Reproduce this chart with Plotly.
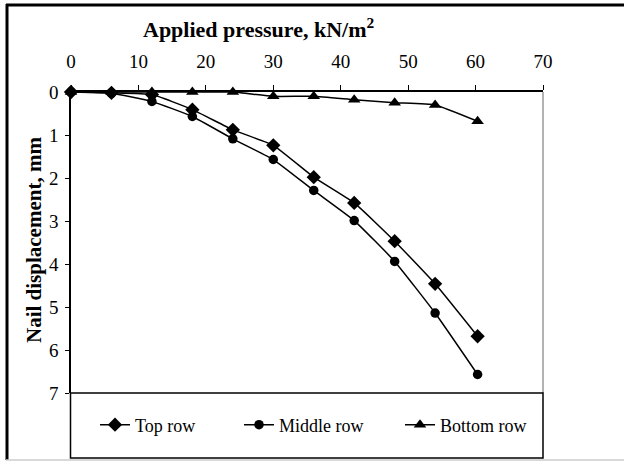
import plotly.graph_objects as go

pressure = [0, 6, 12, 18, 24, 30, 36, 42, 48, 54, 60.3]
top_row = [0, 0.02, 0.06, 0.41, 0.88, 1.24, 1.98, 2.58, 3.47, 4.46, 5.68]
middle_row = [0, 0.03, 0.22, 0.57, 1.09, 1.57, 2.29, 2.99, 3.94, 5.14, 6.57]
bottom_row = [0, 0, 0, 0, 0, 0.1, 0.1, 0.18, 0.25, 0.3, 0.68]
x_ticks = [0, 10, 20, 30, 40, 50, 60, 70]
y_ticks = [0, 1, 2, 3, 4, 5, 6, 7]

W, H = 624, 461
L, R, T, B = 71, 81, 92, 68
pw, ph = W - L - R, H - T - B

def px(xp):
    return (xp - L) / pw

def py(yp):
    return 1 - (yp - T) / ph

FONT = "Liberation Serif"

fig = go.Figure()
series = [
    ("Top row", top_row, "diamond", 11, "legend"),
    ("Middle row", middle_row, "circle", 9.5, "legend2"),
    ("Bottom row", bottom_row, "triangle-up", 11, "legend3"),
]
for name, vals, sym, sz, lg in series:
    fig.add_trace(go.Scatter(
        x=pressure, y=vals, name=name, mode="lines+markers",
        line=dict(color="black", width=1.5, shape="spline", smoothing=0.4),
        marker=dict(symbol=sym, size=sz, color="black"),
        legend=lg, cliponaxis=False,
    ))

legend_common = dict(orientation="h", yanchor="middle", xanchor="left",
                     bgcolor="rgba(0,0,0,0)", borderwidth=0,
                     font=dict(family=FONT, size=18, color="black"))
fig.update_layout(
    width=W, height=H,
    margin=dict(l=L, r=R, t=T, b=B),
    paper_bgcolor="white", plot_bgcolor="white",
    showlegend=True,
    legend=dict(x=px(95), y=py(425), **legend_common),
    legend2=dict(x=px(239), y=py(425), **legend_common),
    legend3=dict(x=px(400), y=py(425), **legend_common),
    xaxis=dict(
        side="top", range=[0, 70], tickvals=x_ticks, ticks="outside", ticklen=5,
        tickcolor="black", showline=True, linecolor="black", linewidth=1.5,
        showgrid=False, zeroline=False, ticklabelstandoff=10,
        tickfont=dict(family=FONT, size=19, color="black"),
    ),
    yaxis=dict(
        range=[7, 0], tickvals=y_ticks, ticks="outside", ticklen=4,
        tickcolor="black", showline=True, linecolor="black", linewidth=1.5,
        showgrid=False, zeroline=False, ticklabelstandoff=3,
        tickfont=dict(family=FONT, size=19, color="black"),
    ),
    shapes=[
        # right plot border (gray)
        dict(type="line", xref="paper", yref="paper", x0=1, x1=1, y0=0, y1=1,
             line=dict(color="#999999", width=1.5)),
        # legend box
        dict(type="rect", xref="paper", yref="paper", x0=px(70.5), x1=px(543),
             y0=py(458), y1=py(393), line=dict(color="black", width=1.5)),
        # outer frame
        dict(type="line", xref="paper", yref="paper", x0=px(6), x1=px(624),
             y0=py(5), y1=py(5), line=dict(color="black", width=3)),
        dict(type="line", xref="paper", yref="paper", x0=px(7), x1=px(7),
             y0=py(4), y1=py(460), line=dict(color="black", width=3)),
        dict(type="line", xref="paper", yref="paper", x0=px(6), x1=px(624),
             y0=py(460), y1=py(460), line=dict(color="#cccccc", width=1.5)),
    ],
    annotations=[
        dict(text="<b>Applied pressure, kN/m<sup>2</sup></b>", xref="paper", yref="paper",
             x=px(259), y=py(28), showarrow=False, xanchor="center", yanchor="middle",
             font=dict(family=FONT, size=22, color="black")),
        dict(text="<b>Nail displacement, mm</b>", xref="paper", yref="paper",
             x=px(34), y=py(240), showarrow=False, textangle=-90,
             xanchor="center", yanchor="middle",
             font=dict(family=FONT, size=21, color="black")),
    ],
)

fig.write_html("out.html")
